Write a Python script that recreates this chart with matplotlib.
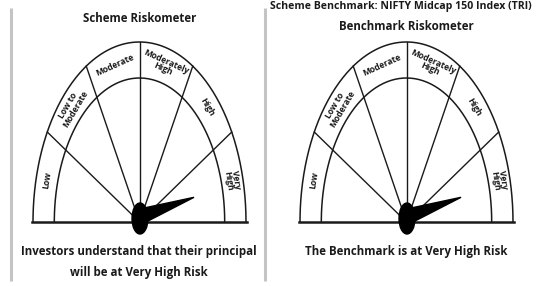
import numpy as np
import matplotlib
matplotlib.use("Agg")
import matplotlib.pyplot as plt
from matplotlib.patches import Ellipse, Polygon

plt.rcParams['font.family'] = ['Open Sans', 'DejaVu Sans']
plt.rcParams['font.stretch'] = 'condensed'
plt.rcParams['font.weight'] = 'bold'

# risk bands, left to right
risk_levels = ["Low", "Low to\nModerate", "Moderate", "Moderately\nHigh", "High", "Very\nHigh"]

# the two meters
meter_titles = ["Scheme Riskometer", "Benchmark Riskometer"]
meter_levels = ["Very\nHigh", "Very\nHigh"]
meter_notes = ["Investors understand that their principal\nwill be at Very High Risk",
               "The Benchmark is at Very High Risk"]
top_caption = "Scheme Benchmark: NIFTY Midcap 150 Index (TRI)"

# layout in pixels
W, H = 537, 286
centers_x = [139.5, 406.5]
title_y = [18, 27]
note_y = [262, 251]
center_y = 222
a_out, b_out = 106.5, 180
inner = 0.8
ink = "#1a1a1a"

fig = plt.figure(figsize=(W / 100, H / 100), dpi=100)
ax = fig.add_axes([0, 0, 1, 1])
ax.set_xlim(0, W)
ax.set_ylim(H, 0)
ax.axis("off")

# grey frame lines
for x in [11, 265]:
    ax.plot([x, x], [8, 281], color="#c4c4c4", lw=2.2, solid_capstyle="butt")


def pt(cx, r, deg):
    t = np.radians(deg)
    return cx + a_out * r * np.cos(t), center_y - b_out * r * np.sin(t)


n = len(risk_levels)
step = 180 / n
for cx, title, ty0, level, note, ny in zip(centers_x, meter_titles, title_y,
                                           meter_levels, meter_notes, note_y):
    th = np.linspace(0, 180, 200)
    for r in [1.0, inner]:
        xs, ys = pt(cx, r, th)
        ax.plot(xs, ys, color=ink, lw=1.1)
    ax.plot([cx - a_out - 1, cx + a_out + 1], [center_y, center_y], color=ink, lw=1.8)
    # spokes
    for k in range(1, n):
        x1, y1 = pt(cx, 1.0, 180 - k * step)
        ax.plot([cx, x1], [center_y, y1], color=ink, lw=1.0)
    # band labels
    for k, lab in enumerate(risk_levels):
        mid = 180 - (k + 0.5) * step
        lx, ly = pt(cx, (1 + inner) / 2, mid)
        t = np.radians(mid)
        dx, dy = -a_out * np.sin(t), b_out * np.cos(t)
        rot = np.degrees(np.arctan2(dy, dx))
        if rot > 90:
            rot -= 180
        elif rot < -90:
            rot += 180
        ax.text(lx, ly, lab, rotation=rot, ha="center", va="center",
                fontsize=6.1, color=ink, linespacing=0.85,
                rotation_mode="anchor")
    # needle
    idx = risk_levels.index(level)
    ang = 180 - (idx + 0.5) * step
    tx, ty = pt(cx, 0.53, ang)
    bx, by = cx + 5, center_y - 7
    ux, uy = tx - bx, ty - by
    ln = np.hypot(ux, uy)
    px, py = -uy / ln * 7, ux / ln * 7
    ax.add_patch(Polygon([[bx + px, by + py], [bx - px, by - py], [tx, ty]],
                         closed=True, color="black", zorder=5))
    ax.add_patch(Ellipse((cx + 0.5, center_y - 3.5), 16, 31, color="black", zorder=6))
    # texts
    ax.text(cx, ty0, title, ha="center", va="center", fontsize=8.3, color=ink)
    ax.text(cx - 0.5, ny, note, ha="center", va="center", fontsize=8.3,
            color=ink, linespacing=1.75)

ax.text(401, 6, top_caption, ha="center", va="center", fontsize=7.6, color=ink)

fig.savefig("out.png", dpi=100)
